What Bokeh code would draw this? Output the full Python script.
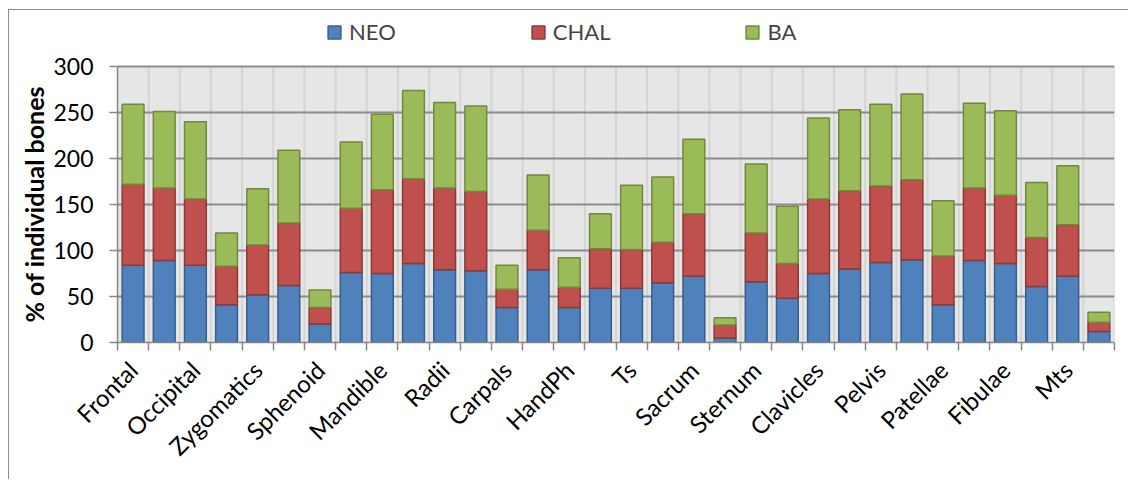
from bokeh.plotting import figure
from bokeh.models import (ColumnDataSource, FixedTicker, Legend, LegendItem, Range1d,
                          BoxAnnotation, Title)
from bokeh.embed import file_html
from bokeh.resources import INLINE
import math

categories = ["Frontal", "Parietal", "Occipital", "Temporal", "Zygomatics", "Maxilla",
              "Sphenoid", "Nasal", "Mandible", "Humeri", "Radii", "Ulnae", "Carpals", "Mcs",
              "HandPh", "Cs", "Ts", "Ls", "Sacrum", "Coccyx", "Sternum", "Ribs",
              "Clavicles", "Scapulae", "Pelvis", "Femora", "Patellae", "Tibiae",
              "Fibulae", "Tarsals", "Mts", "FootPh"]
neo = [84, 89, 84, 41, 52, 62, 20, 76, 75, 86, 79, 78, 38, 79, 38, 59,
       59, 65, 72, 5, 66, 48, 75, 80, 87, 90, 41, 89, 86, 61, 72, 12]
chal = [88, 79, 72, 42, 54, 68, 18, 70, 91, 92, 89, 86, 20, 43, 22, 43,
        42, 44, 68, 14, 53, 38, 81, 85, 83, 87, 53, 79, 74, 53, 56, 10]
ba = [87, 83, 84, 36, 61, 79, 19, 72, 82, 96, 93, 93, 26, 60, 32, 38,
      70, 71, 81, 8, 75, 62, 88, 88, 89, 93, 60, 92, 92, 60, 64, 11]
series = ["NEO", "CHAL", "BA"]
y_ticks = [0, 50, 100, 150, 200, 250, 300]
y_title = "% of individual bones"

FONT = "Lato"
YMAX = 300
n = len(categories)
xs = list(range(1, n + 1))
b1 = [0] * n
t1 = neo
t2 = [a + b for a, b in zip(neo, chal)]
t3 = [a + b for a, b in zip(t2, ba)]

src = ColumnDataSource(dict(x=xs, b1=b1, t1=t1, t2=t2, t3=t3))

# frame: plot area (0..300) is 276 px tall, extra room above for the legend
FRAME_H = 328
p = figure(width=1120, height=470, output_backend="svg", toolbar_location=None,
           x_range=Range1d(0.5, n + 0.5), y_range=Range1d(0, YMAX * FRAME_H / 276),
           min_border_left=108, min_border_right=15, min_border_top=4,
           min_border_bottom=138)
p.styles = {"border-top": "1px solid #8c8c8c", "border-left": "1px solid #8c8c8c",
            "margin-left": "8px", "margin-top": "9px"}
p.background_fill_color = "white"
p.border_fill_color = "white"
p.outline_line_color = None

p.add_layout(BoxAnnotation(bottom=0, top=YMAX, fill_color="#E6E6E6", fill_alpha=1,
                           line_color=None, level="image"))

bounds = [i + 0.5 for i in range(0, n + 1)]
p.segment(x0=bounds[1:], y0=[0] * n, x1=bounds[1:], y1=[YMAX] * n,
          line_color="#D4D4D4", line_width=2, level="underlay")

fills = ["#4F81BD", "#C0504D", "#9BBB59"]
lines = ["#385D8A", "#8C3836", "#71893F"]
r1 = p.vbar(x="x", bottom="b1", top="t1", width=0.7, source=src,
            fill_color=fills[0], line_color=lines[0], line_width=1.5)
r2 = p.vbar(x="x", bottom="t1", top="t2", width=0.7, source=src,
            fill_color=fills[1], line_color=lines[1], line_width=1.5)
r3 = p.vbar(x="x", bottom="t2", top="t3", width=0.7, source=src,
            fill_color=fills[2], line_color=lines[2], line_width=1.5)

# axes
label_pos = xs[::2]
p.xaxis.ticker = FixedTicker(ticks=label_pos, minor_ticks=bounds)
p.xaxis.major_label_overrides = {x: categories[x - 1] for x in label_pos}
p.xaxis.major_tick_line_color = None
p.xaxis.minor_tick_line_color = "#868686"
p.xaxis.minor_tick_line_width = 1.5
p.xaxis.minor_tick_out = 8
p.xaxis.minor_tick_in = 0
p.xaxis.major_label_orientation = math.pi / 4
p.xaxis.major_label_text_font = FONT
p.xaxis.major_label_text_font_size = "24px"
p.xaxis.major_label_text_color = "black"
p.xaxis.major_label_standoff = 15
p.xaxis.axis_line_color = "#868686"
p.xaxis.axis_line_width = 1.5

p.yaxis.ticker = FixedTicker(ticks=y_ticks)
p.yaxis.bounds = (0, YMAX)
p.yaxis.minor_tick_line_color = None
p.yaxis.major_tick_line_color = "#868686"
p.yaxis.major_tick_line_width = 1.5
p.yaxis.major_tick_out = 8
p.yaxis.major_tick_in = 0
p.yaxis.axis_line_color = "#868686"
p.yaxis.axis_line_width = 1.5
p.yaxis.major_label_text_font = FONT
p.yaxis.major_label_text_font_size = "23px"
p.yaxis.major_label_text_color = "black"
p.yaxis.major_label_standoff = 16

# y-axis title placed alongside the 0..300 plot area
p.add_layout(Title(text=y_title, align="left", offset=20,
                   text_font=FONT, text_font_size="25px", text_font_style="bold",
                   text_color="black", standoff=4), "left")

# grids
p.xgrid.grid_line_color = None
p.ygrid.ticker = FixedTicker(ticks=y_ticks)
p.ygrid.grid_line_color = "#8C8C8C"
p.ygrid.grid_line_width = 2
p.ygrid.level = "underlay"

legend = Legend(items=[LegendItem(label=series[0], renderers=[r1]),
                       LegendItem(label=series[1], renderers=[r2]),
                       LegendItem(label=series[2], renderers=[r3])],
                orientation="horizontal", location=(209, 297),
                spacing=134, padding=0, margin=0,
                glyph_width=16, glyph_height=16, label_standoff=7,
                label_text_font=FONT, label_text_font_size="22px",
                border_line_color=None, background_fill_alpha=0)
p.add_layout(legend, "center")

open("out.html", "w").write(file_html(p, INLINE))
